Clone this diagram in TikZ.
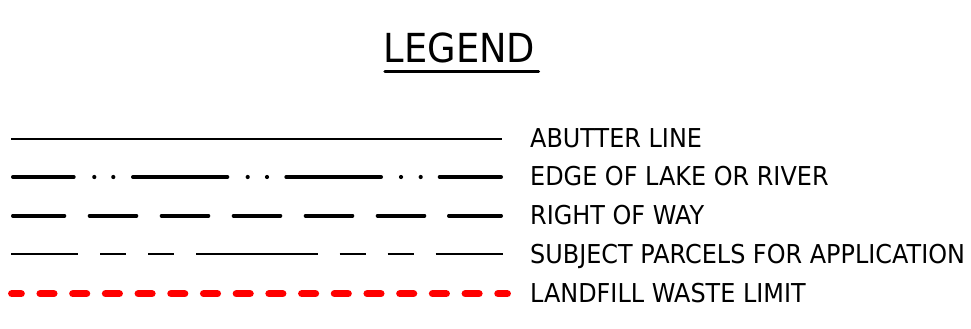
\documentclass[tikz,border=0pt]{standalone}
\usepackage{fontspec}
\setmainfont[FakeStretch=0.92]{DejaVu Sans}
\begin{document}
\begin{tikzpicture}[x=1pt,y=-1pt,
  lbl/.style={anchor=base west,inner sep=0pt,font=\fontsize{26}{26}\selectfont},
  thinline/.style={line width=2pt,line cap=butt},
  lakeline/.style={line width=3.8pt,line cap=round},
  rowline/.style={line width=3.8pt,line cap=round},
  parcelline/.style={line width=2.7pt,line cap=butt},
  wasteline/.style={draw={rgb,255:red,255;green,0;blue,0},line width=7.5pt,line cap=round,
    dash pattern=on 13.6pt off 19.1pt,dash phase=4.3pt}]
\useasboundingbox (0,0) rectangle (971,329);
% title
\node[inner sep=0pt,anchor=base,font=\fontsize{40}{40}\selectfont] (title) at (459.5,62.7) {LEGEND};
\draw[line width=3.2pt,line cap=round] (385,71.7) coordinate (ulA) -- (538.5,71.7) coordinate (ulB);
% labels
\node[lbl] (t1) at (530,147.3) {ABUTTER LINE};
\node[lbl] (t2) at (530,185.7) {EDGE OF LAKE OR RIVER};
\node[lbl] (t3) at (530,224.3) {RIGHT OF WAY};
\node[lbl] (t4) at (530,263.3) {SUBJECT PARCELS FOR APPLICATION};
\node[lbl] (t5) at (530,302.3) {LANDFILL WASTE LIMIT};
% abutter line
\draw[thinline] (11,138.7) coordinate (a1) -- (502,138.7) coordinate (a2);
% edge of lake or river
\foreach \s/\e in {12.9/73.8,132.9/227.4,286.2/381.1,439.6/501.1}
  \draw[lakeline] (\s,177) -- (\e,177);
\foreach \d in {94.3,113.3,247.7,267,401,420.7}
  \fill (\d,177) circle (2.1pt);
% right of way
\foreach \s/\e in {12.9/64.4,89.6/136.4,161.6/208.4,233.6/280.4,305.6/352.4,377.6/424.4,448.9/501.1}
  \draw[rowline] (\s,215.7) -- (\e,215.7);
% subject parcels
\foreach \s/\e in {11/77.7,100/125.7,148/173.7,196/317.7,339.7/365.7,387.7/413.7,435.7/502.7}
  \draw[parcelline] (\s,254) -- (\e,254);
% landfill waste limit
\draw[wasteline] (11.8,293.7) coordinate (w1) -- (507.2,293.7) coordinate (w2);
\end{tikzpicture}
\end{document}
